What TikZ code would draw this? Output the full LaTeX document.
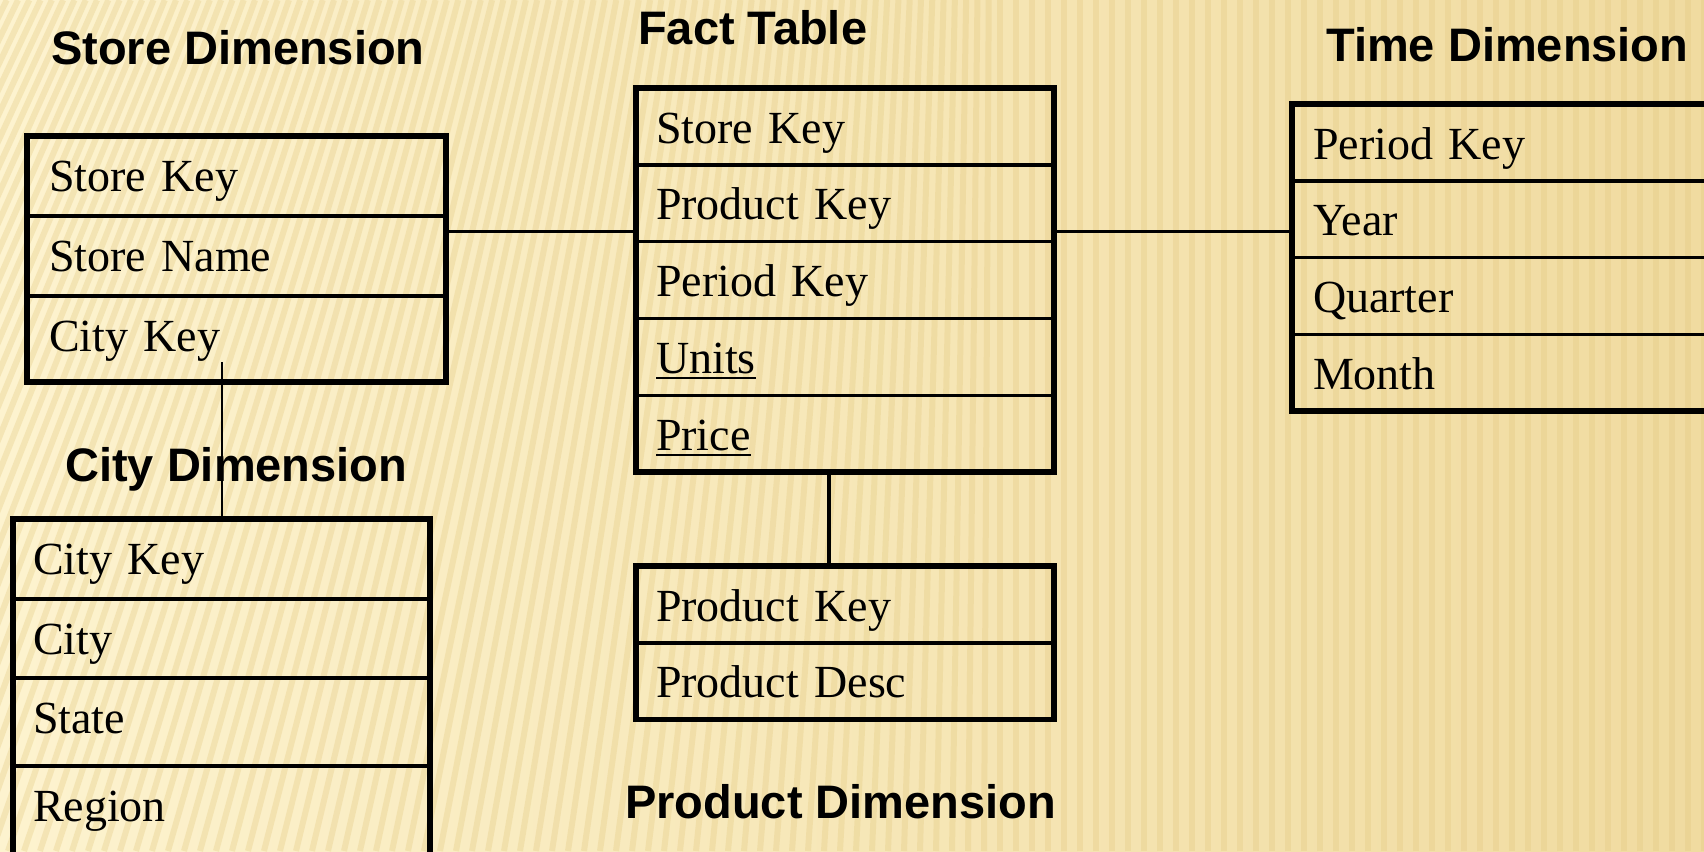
\documentclass[tikz,border=0pt]{standalone}
\usepackage{fontspec}
\setmainfont{Liberation Serif}
\setsansfont{Liberation Sans}
\usetikzlibrary{positioning}

\definecolor{bgleft}{HTML}{FDF3CF}
\definecolor{bgmid}{HTML}{FBECC0}
\definecolor{bgright}{HTML}{F0DBA0}
\definecolor{stripecol}{HTML}{E3C87F}

% underlined measure columns
\newcommand{\measureul}[1]{\setbox0\hbox{#1}\rlap{\rule[-6pt]{\wd0}{2.5pt}}#1}

\tikzset{
    field/.style = {
        rectangle,
        draw=black,
        line width=3.4pt,
        outer sep=0pt,
        inner xsep=20pt,
        inner ysep=0pt,
        text height=55pt,
        align=left,
        font=\fontsize{46}{46}\selectfont
    },
    storefield/.style = {field, inner xsep=22pt, text width=375pt, minimum height=80pt, text depth=25pt},
    factfield/.style = {field, text width=378pt, minimum height=76.8pt, text depth=21.8pt},
    timefield/.style = {field, inner xsep=21pt, text width=426pt, minimum height=76.8pt, text depth=21.8pt},
    cityfield/.style = {field, text width=377pt, minimum height=80pt, text depth=25pt},
    frame/.style = {draw=black, line width=5.5pt},
    title/.style = {
        anchor=base west,
        inner sep=0pt,
        font=\sffamily\bfseries\fontsize{47}{47}\selectfont
    },
    link/.style = {draw=black, line width=3pt},
    stripe/.style = {draw=stripecol, line width=6pt, opacity=0.32}
}

\begin{document}
\begin{tikzpicture}[x=1pt, y=-1pt]
    \useasboundingbox (0,0) rectangle (1704,851);
    \clip (0,0) rectangle (1704,851);

    % background with slanted stripes
    \shade[left color=bgleft, middle color=bgmid, right color=bgright] (0,0) rectangle (1704,851);
    \foreach \x in {-520,-504,...,1720} {
        \pgfmathsetmacro{\lean}{max(0,0.45*(1-(\x+300)/1300))*851}
        \draw[stripe] (\x,851) -- ({\x+\lean},0);
    }

    % titles
    \node [title] (storetitle) at (51,65) {Store Dimension};
    \node [title] (facttitle) at (638,45) {Fact Table};
    \node [title] (timetitle) at (1326,61) {Time Dimension};
    \node [title] (citytitle) at (65,481) {City Dimension};
    \node [title] (producttitle) at (625,818) {Product Dimension};

    % store dimension
    \node [storefield] (s1) at (236.5,176) {Store Key};
    \node [storefield, below=0pt of s1] (s2) {Store Name};
    \node [storefield, below=0pt of s2, minimum height=86pt, text depth=31pt] (s3) {City Key};
    \draw [frame] (s1.north west) rectangle (s3.south east);

    % fact table
    \node [factfield] (f1) at (845,126.4) {Store Key};
    \node [factfield, below=0pt of f1] (f2) {Product Key};
    \node [factfield, below=0pt of f2] (f3) {Period Key};
    \node [factfield, below=0pt of f3] (f4) {\measureul{Units}};
    \node [factfield, below=0pt of f4] (f5) {\measureul{Price}};
    \draw [frame] (f1.north west) rectangle (f5.south east);

    % time dimension
    \node [timefield] (t1) at (1526,142.4) {Period Key};
    \node [timefield, below=0pt of t1] (t2) {Year};
    \node [timefield, below=0pt of t2] (t3) {Quarter};
    \node [timefield, below=0pt of t3] (t4) {Month};
    \draw [frame] (t1.north west) rectangle (t4.south east);

    % city dimension
    \node [cityfield] (c1) at (221.5,559) {City Key};
    \node [cityfield, below=0pt of c1, minimum height=79pt, text depth=24pt] (c2) {City};
    \node [cityfield, below=0pt of c2, minimum height=88pt, text depth=33pt] (c3) {State};
    \node [cityfield, below=0pt of c3, minimum height=92pt, text depth=37pt] (c4) {Region};
    \draw [frame] (c1.north west) rectangle (c4.south east);

    % product dimension
    \node [factfield] (p1) at (845,604.4) {Product Key};
    \node [factfield, below=0pt of p1] (p2) {Product Desc};
    \draw [frame] (p1.north west) rectangle (p2.south east);

    % joins
    \coordinate (storelink) at ([yshift=-15pt]s2.north east);
    \draw [link] (storelink) -- (storelink -| f2.west);
    \draw [link] (storelink -| f2.east) -- (storelink -| t2.west);
    \coordinate (citylink) at (s3.south -| c1.north);
    \draw [link, line width=2pt] ([yshift=20pt]citylink) -- (c1.north);
    \draw [link, line width=4.5pt] ([xshift=-16pt]f5.south) -- ([xshift=-16pt]p1.north);
\end{tikzpicture}
\end{document}
